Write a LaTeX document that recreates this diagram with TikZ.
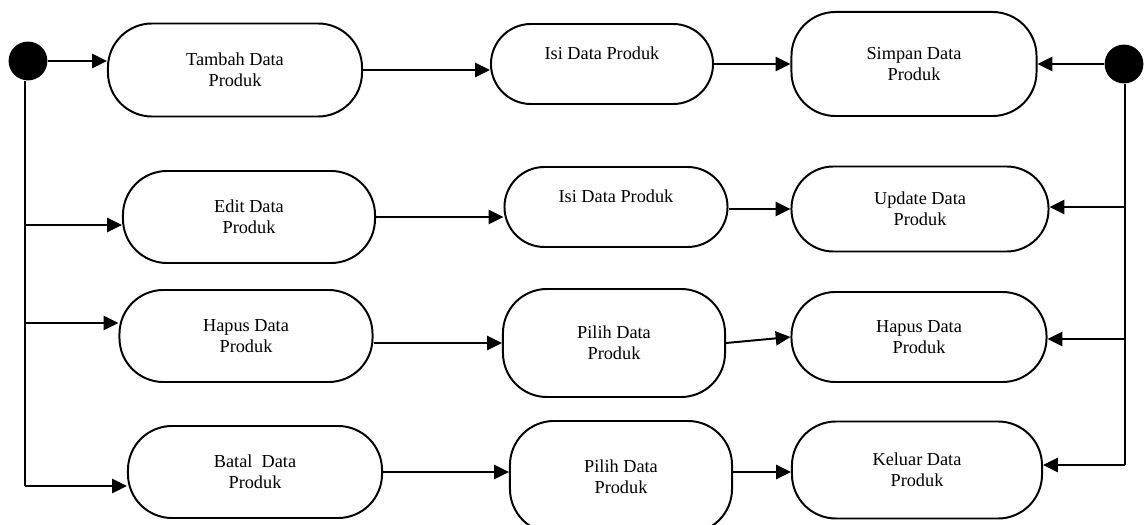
\documentclass[tikz,border=0pt]{standalone}
\usepackage{fontspec}
\setmainfont{Liberation Serif}
\usetikzlibrary{arrows.meta}
\begin{document}
\begin{tikzpicture}[x=0.025cm, y=-0.025cm,
	act/.style={draw, line width=1.4pt, rounded corners=1.1cm, align=center, font=\fontsize{13}{15}\selectfont},
	dot/.style={circle, fill=black, inner sep=0pt, minimum size=0.97cm},
	link/.style={line width=1.4pt},
	flow/.style={line width=1.4pt, -{Triangle[length=10.5pt, width=10pt]}}]
	\useasboundingbox (0, 0) rectangle (1147, 525);
	\node[dot] (start) at (28, 61) {};
	\node[dot] (finish) at (1124, 64) {};
	\node[act, minimum width=6.35cm, minimum height=2.325cm] (tambah) at (235, 70) {Tambah Data\\Produk};
	\node[act, rounded corners=1cm, minimum width=5.55cm, minimum height=2cm] (isiA) at (602, 64) {\raisebox{3.4pt}[0pt][0pt]{Isi Data Produk}};
	\node[act, minimum width=6.125cm, minimum height=2.6cm] (simpan) at (914, 64) {Simpan Data\\Produk};
	\node[act, minimum width=6.3cm, minimum height=2.3cm] (edit) at (249, 217) {Edit Data\\Produk};
	\node[act, rounded corners=1cm, minimum width=5.575cm, minimum height=2cm] (isiB) at (616, 207) {\raisebox{3pt}[0pt][0pt]{Isi Data Produk}};
	\node[act, rounded corners=1.05cm, minimum width=6.425cm, minimum height=2.125cm] (update) at (920, 209) {Update Data\\Produk};
	\node[act, minimum width=6.325cm, minimum height=2.3cm] (hapusA) at (246, 336) {Hapus Data\\Produk};
	\node[act, minimum width=5.55cm, minimum height=2.7cm] (pilihA) at (614, 343) {Pilih Data\\Produk};
	\node[act, minimum width=6.375cm, minimum height=2.25cm] (hapusB) at (919, 337) {Hapus Data\\Produk};
	\node[act, minimum width=6.35cm, minimum height=2.3cm] (batal) at (255, 472) {Batal\ \ Data\\Produk};
	\node[act, minimum width=5.55cm, minimum height=2.8cm] (pilihB) at (621, 477) {Pilih Data\\Produk};
	\node[act, minimum width=6.25cm, minimum height=2.425cm] (keluar) at (917, 470) {Keluar Data\\Produk};
	\coordinate (l2) at (25, 225);
	\coordinate (l3) at (25, 323);
	\coordinate (l4) at (25, 486);
	\coordinate (r2) at (1125, 207);
	\coordinate (r3) at (1125, 339);
	\coordinate (r4) at (1125, 465);
	\draw[flow] (start) -- (start -| tambah.west);
	\draw[link] (start.south -| l4) -- (l4);
	\draw[flow] (l2) -- (l2 -| edit.west);
	\draw[flow] (l3) -- (l3 -| hapusA.west);
	\draw[flow] (l4) -- (l4 -| batal.west);
	\draw[flow] (finish) -- (finish -| simpan.east);
	\draw[link] (finish.south -| r4) -- (r4);
	\draw[flow] (r2) -- (r2 -| update.east);
	\draw[flow] (r3) -- (r3 -| hapusB.east);
	\draw[flow] (r4) -- (r4 -| keluar.east);
	\draw[flow] (tambah.east) -- (tambah.east -| isiA.west);
	\draw[flow] (isiA.east) -- (simpan.west);
	\draw[flow] (edit.east) -- (edit.east -| isiB.west);
	\draw[flow] (isiB.east |- update.west) -- (update.west);
	\draw[flow] (hapusA.east |- pilihA.west) -- (pilihA.west);
	\draw[flow] (pilihA.east) -- (hapusB.west);
	\draw[flow] (batal.east) -- (batal.east -| pilihB.west);
	\draw[flow] (pilihB.east |- batal.east) -- (batal.east -| keluar.west);
\end{tikzpicture}
\end{document}
